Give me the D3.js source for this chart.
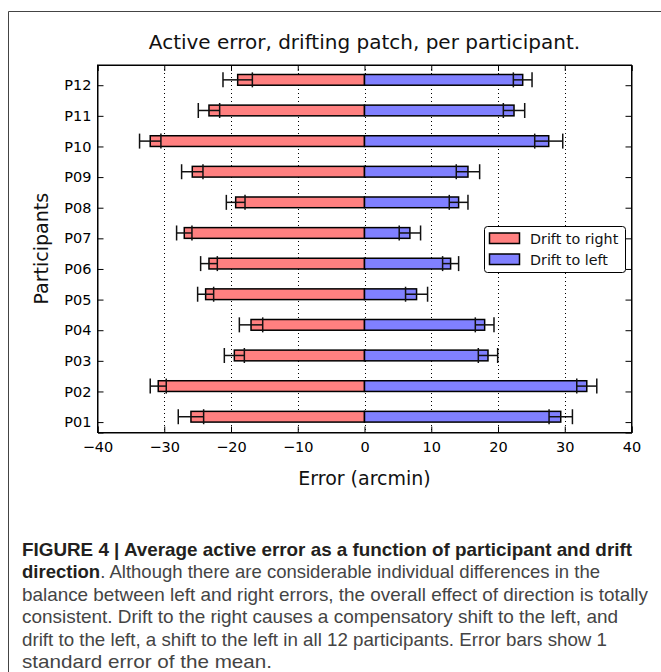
<!DOCTYPE html>
<html>
<head>
<meta charset="utf-8">
<script src="https://cdn.jsdelivr.net/npm/d3@7"></script>
<style>
  body { margin: 0; background: #fff; }
  svg { display: block; }
</style>
</head>
<body>
<script>
var w = 661
var h = 672

// participants, bottom to top
var participants = ["P01", "P02", "P03", "P04", "P05", "P06", "P07", "P08", "P09", "P10", "P11", "P12"]
// drift to right (negative errors) and its standard error
var rightMean = [-26.0, -30.9, -19.5, -17.0, -23.8, -23.3, -27.0, -19.3, -25.8, -32.1, -23.3, -19.0]
var rightSe = [1.9, 1.2, 1.5, 1.75, 1.2, 1.25, 1.15, 1.4, 1.6, 1.6, 1.6, 2.2]
// drift to left
var leftMean = [29.4, 33.3, 18.5, 18.0, 7.8, 12.9, 6.8, 14.1, 15.5, 27.6, 22.4, 23.7]
var leftSe = [1.75, 1.5, 1.45, 1.4, 1.65, 1.2, 1.6, 1.4, 1.75, 2.1, 1.6, 1.4]
var xTicks = [-40, -30, -20, -10, 0, 10, 20, 30, 40]

var captionLines = [
  [["FIGURE 4 | Average active error as a function of participant and drift", true]],
  [["direction", true], [". Although there are considerable individual differences in the", false]],
  [["balance between left and right errors, the overall effect of direction is totally", false]],
  [["consistent. Drift to the right causes a compensatory shift to the left, and", false]],
  [["drift to the left, a shift to the left in all 12 participants. Error bars show 1", false]],
  [["standard error of the mean.", false]]
]
var captionWidths = [610, 578, 626, 596, 585, 250]

var svg = d3.select("body")
            .append("svg")
            .attr("width", w)
            .attr("height", h)

// outer frame of the figure panel
svg.append("path")
  .attr("d", "M8.5," + (h + 2) + " V11.5 H" + (w + 2))
  .attr("fill", "none")
  .attr("stroke", "#444")
  .attr("stroke-width", 1)

var pLeft = 97.5, pRight = 631.5, pTop = 65, pBottom = 432.5
var barH = 0.35

var x = d3.scaleLinear().domain([-40, 40]).range([pLeft, pRight])
var y = d3.scaleLinear().domain([-0.34, 11.66]).range([pBottom, pTop])

var font = "'DejaVu Sans', sans-serif"

// dotted vertical grid
svg.append("g").selectAll("line")
  .data(xTicks.slice(1, -1))
  .enter().append("line")
  .attr("x1", function(d) {return Math.round(x(d)) + 0.5})
  .attr("x2", function(d) {return Math.round(x(d)) + 0.5})
  .attr("y1", pTop)
  .attr("y2", pBottom)
  .attr("stroke", "#000")
  .attr("stroke-width", 1)
  .attr("stroke-dasharray", "1,3")

var rows = participants.map(function(p, i) {
  return {i: i, r: rightMean[i], rs: rightSe[i], l: leftMean[i], ls: leftSe[i]}
})

// bars
svg.append("g").selectAll("rect")
  .data(rows)
  .enter().append("rect")
  .attr("x", function(d) {return x(d.r)})
  .attr("width", function(d) {return x(0) - x(d.r)})
  .attr("y", function(d) {return y(d.i + barH)})
  .attr("height", function(d) {return y(d.i) - y(d.i + barH)})
  .attr("fill", "#ff8080")
  .attr("stroke", "#000")
  .attr("stroke-width", 1.5)

svg.append("g").selectAll("rect")
  .data(rows)
  .enter().append("rect")
  .attr("x", x(0))
  .attr("width", function(d) {return x(d.l) - x(0)})
  .attr("y", function(d) {return y(d.i + barH)})
  .attr("height", function(d) {return y(d.i) - y(d.i + barH)})
  .attr("fill", "#8080ff")
  .attr("stroke", "#000")
  .attr("stroke-width", 1.5)

// error bars
function errorBars(m, s) {
  var g = svg.append("g").attr("stroke", "#111").attr("stroke-width", 1.5)
  rows.forEach(function(d) {
    var cy = y(d.i + barH / 2)
    var x1 = x(d[m] - d[s]), x2 = x(d[m] + d[s])
    g.append("line").attr("x1", x1).attr("x2", x2).attr("y1", cy).attr("y2", cy)
    ;[x1, x2].forEach(function(cx) {
      g.append("line").attr("x1", cx).attr("x2", cx).attr("y1", cy - 7.5).attr("y2", cy + 7.5)
    })
  })
}
errorBars("r", "rs")
errorBars("l", "ls")

// axes with inward ticks, matplotlib style
svg.append("g")
  .attr("transform", "translate(0," + pBottom + ")")
  .call(d3.axisBottom(x).tickValues(xTicks).tickSize(-6).tickPadding(9))
svg.append("g")
  .attr("transform", "translate(0," + pTop + ")")
  .call(d3.axisTop(x).tickValues(xTicks).tickSize(-6).tickFormat(""))
svg.append("g")
  .attr("transform", "translate(" + pLeft + ",0)")
  .call(d3.axisLeft(y).tickValues(d3.range(participants.length))
    .tickFormat(function(i) {return participants[i]}).tickSize(-6).tickPadding(6))
svg.append("g")
  .attr("transform", "translate(" + pRight + ",0)")
  .call(d3.axisRight(y).tickValues(d3.range(participants.length)).tickSize(-6).tickFormat(""))

svg.selectAll(".domain").attr("stroke", "#000").attr("stroke-width", 1)
svg.selectAll(".tick line").attr("stroke", "#000").attr("stroke-width", 1)
svg.selectAll(".tick text").attr("font-family", font).attr("font-size", "14.5px").attr("fill", "#000")

// outline box
svg.append("rect")
  .attr("x", pLeft).attr("y", pTop)
  .attr("width", pRight - pLeft).attr("height", pBottom - pTop)
  .attr("fill", "none").attr("stroke", "#000").attr("stroke-width", 1)

// legend
var lg = svg.append("g").attr("transform", "translate(484.5,226.5)")
lg.append("rect")
  .attr("width", 141).attr("height", 46).attr("rx", 3)
  .attr("fill", "#fff").attr("stroke", "#000").attr("stroke-width", 1)
var legendItems = [["Drift to right", "#ff8080"], ["Drift to left", "#8080ff"]]
legendItems.forEach(function(it, k) {
  lg.append("rect")
    .attr("x", 5).attr("y", 6.5 + k * 21).attr("width", 30).attr("height", 10.5)
    .attr("fill", it[1]).attr("stroke", "#000").attr("stroke-width", 1.5)
  lg.append("text")
    .attr("x", 45.5).attr("y", 17 + k * 21)
    .attr("font-family", font).attr("font-size", "14.3px").attr("fill", "#111")
    .text(it[0])
})

// titles
svg.append("text")
  .attr("x", (pLeft + pRight) / 2).attr("y", 49)
  .attr("text-anchor", "middle")
  .attr("font-family", font).attr("font-size", "20px").attr("fill", "#111")
  .text("Active error, drifting patch, per participant.")

svg.append("text")
  .attr("x", (pLeft + pRight) / 2).attr("y", 485)
  .attr("text-anchor", "middle")
  .attr("font-family", font).attr("font-size", "19px").attr("fill", "#111")
  .text("Error (arcmin)")

svg.append("text")
  .attr("transform", "translate(48," + ((pTop + pBottom) / 2) + ") rotate(-90)")
  .attr("text-anchor", "middle")
  .attr("font-family", font).attr("font-size", "19px").attr("fill", "#111")
  .text("Participants")

// caption
var cap = svg.append("g")
captionLines.forEach(function(line, k) {
  var t = cap.append("text")
    .attr("x", 22).attr("y", 555.5 + k * 22.5)
    .attr("font-family", "'Liberation Sans Narrow', 'Liberation Sans', Roboto, sans-serif")
    .attr("font-size", "18.5px")
    .attr("textLength", captionWidths[k])
    .attr("lengthAdjust", "spacingAndGlyphs")
  line.forEach(function(part) {
    t.append("tspan")
      .attr("font-weight", part[1] ? "bold" : "normal")
      .attr("fill", part[1] ? "#231f20" : "#444")
      .text(part[0])
  })
})
</script>
</body>
</html>
